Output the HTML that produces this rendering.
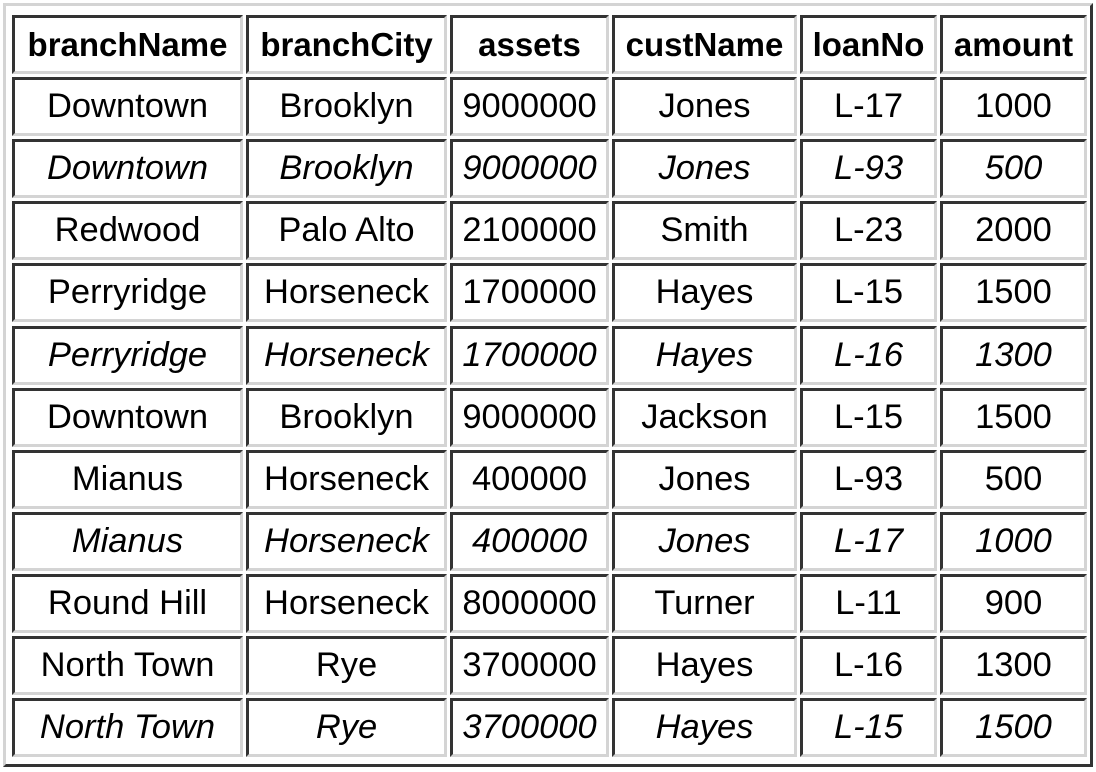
<!DOCTYPE html>
<html><head><meta charset="utf-8"><style>
body{margin:0;width:1096px;height:772px;background:#fff;overflow:hidden;font-family:"Liberation Sans",Arial,sans-serif;}
#outer{position:absolute;left:3px;top:3px;width:1084px;height:758px;border:3px solid;border-color:#d4d4d4 #333 #333 #d4d4d4;}
.c{position:absolute;box-sizing:border-box;border:3px solid;border-color:#333 #d4d4d4 #d4d4d4 #333;display:flex;align-items:center;justify-content:center;font-size:34.5px;color:#000;white-space:nowrap;}
.h{font-weight:bold;font-size:33px;}
.i{font-style:italic;}
</style></head><body>
<div id="outer"></div>
<div id="t"></div>
<script>
const headers=["branchName","branchCity","assets","custName","loanNo","amount"];
const rows=[
["Downtown","Brooklyn","9000000","Jones","L-17","1000",0],
["Downtown","Brooklyn","9000000","Jones","L-93","500",1],
["Redwood","Palo Alto","2100000","Smith","L-23","2000",0],
["Perryridge","Horseneck","1700000","Hayes","L-15","1500",0],
["Perryridge","Horseneck","1700000","Hayes","L-16","1300",1],
["Downtown","Brooklyn","9000000","Jackson","L-15","1500",0],
["Mianus","Horseneck","400000","Jones","L-93","500",0],
["Mianus","Horseneck","400000","Jones","L-17","1000",1],
["Round Hill","Horseneck","8000000","Turner","L-11","900",0],
["North Town","Rye","3700000","Hayes","L-16","1300",0],
["North Town","Rye","3700000","Hayes","L-15","1500",1]
];
const L=[12,246,450,612,800,940],W=[231,201,159,185,137,147];
const t=document.getElementById('t');
function cell(txt,col,row,cls){
 const d=document.createElement('div');
 d.className='c '+cls;
 d.style.left=L[col]+'px';d.style.width=W[col]+'px';
 d.style.top=(15+row*62.1)+'px';d.style.height='59px';
 d.textContent=txt;
 
 
 t.appendChild(d);
}
headers.forEach((h,c)=>cell(h,c,0,'h'));
rows.forEach((r,i)=>{for(let c=0;c<6;c++)cell(r[c],c,i+1,r[6]?'i':'');});
</script>
</body></html>
